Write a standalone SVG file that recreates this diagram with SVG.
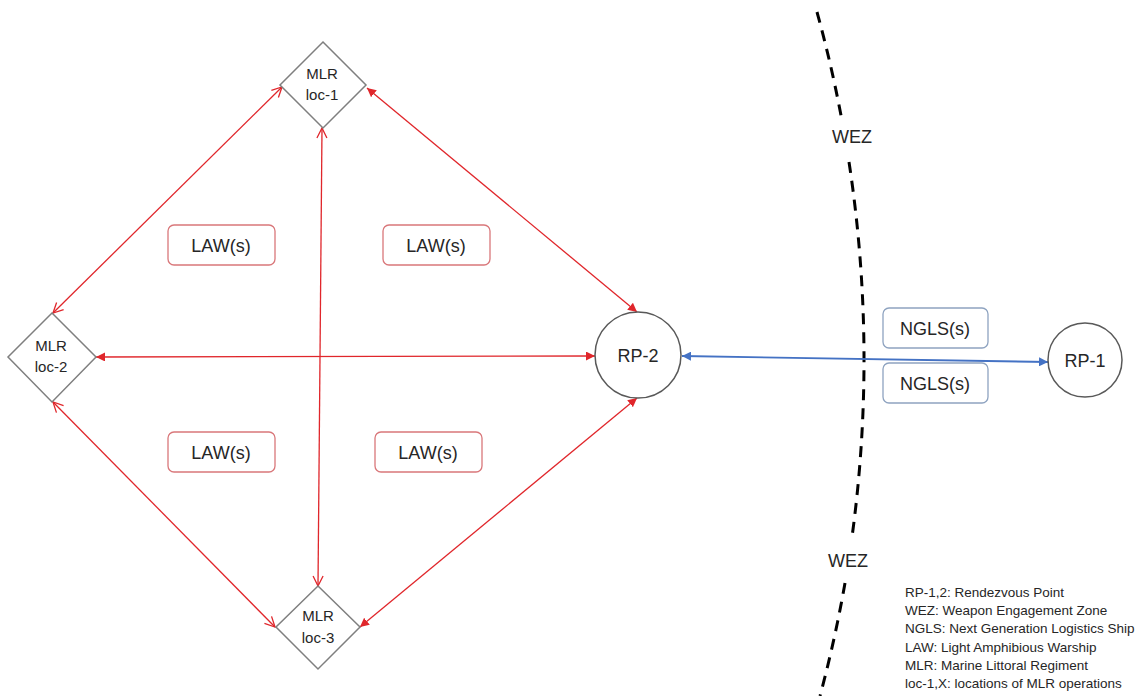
<svg xmlns="http://www.w3.org/2000/svg" width="1140" height="696" viewBox="0 0 1140 696">
<style>
  text { font-family: "Liberation Sans", Arial, sans-serif; fill: #262626; text-anchor: middle; }
  .mlr { font-size: 15px; }
  .big { font-size: 18px; }
  .legend { font-size: 13.5px; text-anchor: start; }
  .diamond { fill: #ffffff; stroke: #7f7f7f; stroke-width: 1.5; }
  .circle { fill: #ffffff; stroke: #595959; stroke-width: 1.5; }
  .law { fill: #ffffff; stroke: #d9777a; stroke-width: 1.3; }
  .ngls { fill: #ffffff; stroke: #8ea3c0; stroke-width: 1.3; }
  .red { stroke: #e0262b; stroke-width: 1.3; fill: none; }
  .blue { stroke: #4472c4; stroke-width: 1.8; fill: none; }
  .wez { stroke: #000000; stroke-width: 3; fill: none; stroke-dasharray: 11 8; }
</style>
<defs>
  <marker id="redFill" viewBox="0 0 10 10" refX="10" refY="5" markerWidth="9" markerHeight="9" markerUnits="userSpaceOnUse" orient="auto-start-reverse">
    <path d="M0,0 L10,5 L0,10 z" fill="#e0262b"/>
  </marker>
  <marker id="redOpen" viewBox="-1 -1 12 12" refX="10" refY="5" markerWidth="12" markerHeight="12" markerUnits="userSpaceOnUse" orient="auto-start-reverse">
    <path d="M0,0 L10,5 L0,10" fill="none" stroke="#e0262b" stroke-width="1.3"/>
  </marker>
  <marker id="blueFill" viewBox="0 0 10 10" refX="10" refY="5" markerWidth="9" markerHeight="9" markerUnits="userSpaceOnUse" orient="auto-start-reverse">
    <path d="M0,0 L10,5 L0,10 z" fill="#4472c4"/>
  </marker>
</defs>

<g id="wez-boundary">
  <path class="wez" d="M817,12 A1312,1312 0 0 1 841.5,118 M849,162 A1312,1312 0 0 1 852,537 M845,583 A1312,1312 0 0 1 820,696"/>
  <text class="big" x="852" y="143">WEZ</text>
  <text class="big" x="848" y="567">WEZ</text>
</g>

<g id="connectors">
  <line class="red" x1="282" y1="87" x2="53" y2="313" marker-start="url(#redOpen)" marker-end="url(#redOpen)"/>
  <line class="red" x1="322" y1="128" x2="318" y2="586" marker-start="url(#redOpen)" marker-end="url(#redOpen)"/>
  <line class="red" x1="53" y1="402" x2="275" y2="627" marker-start="url(#redOpen)" marker-end="url(#redOpen)"/>
  <line class="red" x1="367" y1="88" x2="637" y2="312" marker-start="url(#redFill)" marker-end="url(#redFill)"/>
  <line class="red" x1="96" y1="357" x2="595" y2="356" marker-start="url(#redFill)" marker-end="url(#redFill)"/>
  <line class="red" x1="360" y1="627" x2="637" y2="398" marker-start="url(#redFill)" marker-end="url(#redFill)"/>
  <line class="blue" x1="682" y1="356" x2="1048" y2="362" marker-start="url(#blueFill)" marker-end="url(#blueFill)"/>
</g>

<g id="mlr-loc-1">
  <polygon class="diamond" points="323,42 366,85 323,128 280,85"/>
  <text class="mlr" x="322" y="79">MLR</text>
  <text class="mlr" x="322" y="100">loc-1</text>
</g>
<g id="mlr-loc-2">
  <polygon class="diamond" points="52,313 96,357 52,402 8,357"/>
  <text class="mlr" x="51" y="351">MLR</text>
  <text class="mlr" x="51" y="372">loc-2</text>
</g>
<g id="mlr-loc-3">
  <polygon class="diamond" points="318,586 360,627 318,669 276,627"/>
  <text class="mlr" x="318" y="621">MLR</text>
  <text class="mlr" x="318" y="643">loc-3</text>
</g>

<g id="rp-2">
  <circle class="circle" cx="638" cy="355" r="43"/>
  <text class="big" x="638" y="362">RP-2</text>
</g>
<g id="rp-1">
  <circle class="circle" cx="1085" cy="360" r="37"/>
  <text class="big" x="1085" y="367">RP-1</text>
</g>

<g id="law-1">
  <rect class="law" x="168" y="225" width="107" height="40" rx="6"/>
  <text class="big" x="221" y="252">LAW(s)</text>
</g>
<g id="law-2">
  <rect class="law" x="383" y="225" width="107" height="40" rx="6"/>
  <text class="big" x="436" y="252">LAW(s)</text>
</g>
<g id="law-3">
  <rect class="law" x="168" y="432" width="107" height="40" rx="6"/>
  <text class="big" x="221" y="459">LAW(s)</text>
</g>
<g id="law-4">
  <rect class="law" x="375" y="432" width="107" height="40" rx="6"/>
  <text class="big" x="428" y="459">LAW(s)</text>
</g>

<g id="ngls-1">
  <rect class="ngls" x="883" y="308" width="105" height="40" rx="6"/>
  <text class="big" x="935" y="335">NGLS(s)</text>
</g>
<g id="ngls-2">
  <rect class="ngls" x="883" y="363" width="105" height="40" rx="6"/>
  <text class="big" x="935" y="390">NGLS(s)</text>
</g>

<g id="legend">
  <text class="legend" x="905" y="597">RP-1,2: Rendezvous Point</text>
  <text class="legend" x="905" y="615">WEZ: Weapon Engagement Zone</text>
  <text class="legend" x="905" y="633">NGLS: Next Generation Logistics Ship</text>
  <text class="legend" x="905" y="652">LAW: Light Amphibious Warship</text>
  <text class="legend" x="905" y="670">MLR: Marine Littoral Regiment</text>
  <text class="legend" x="905" y="688">loc-1,X: locations of MLR operations</text>
</g>
</svg>
